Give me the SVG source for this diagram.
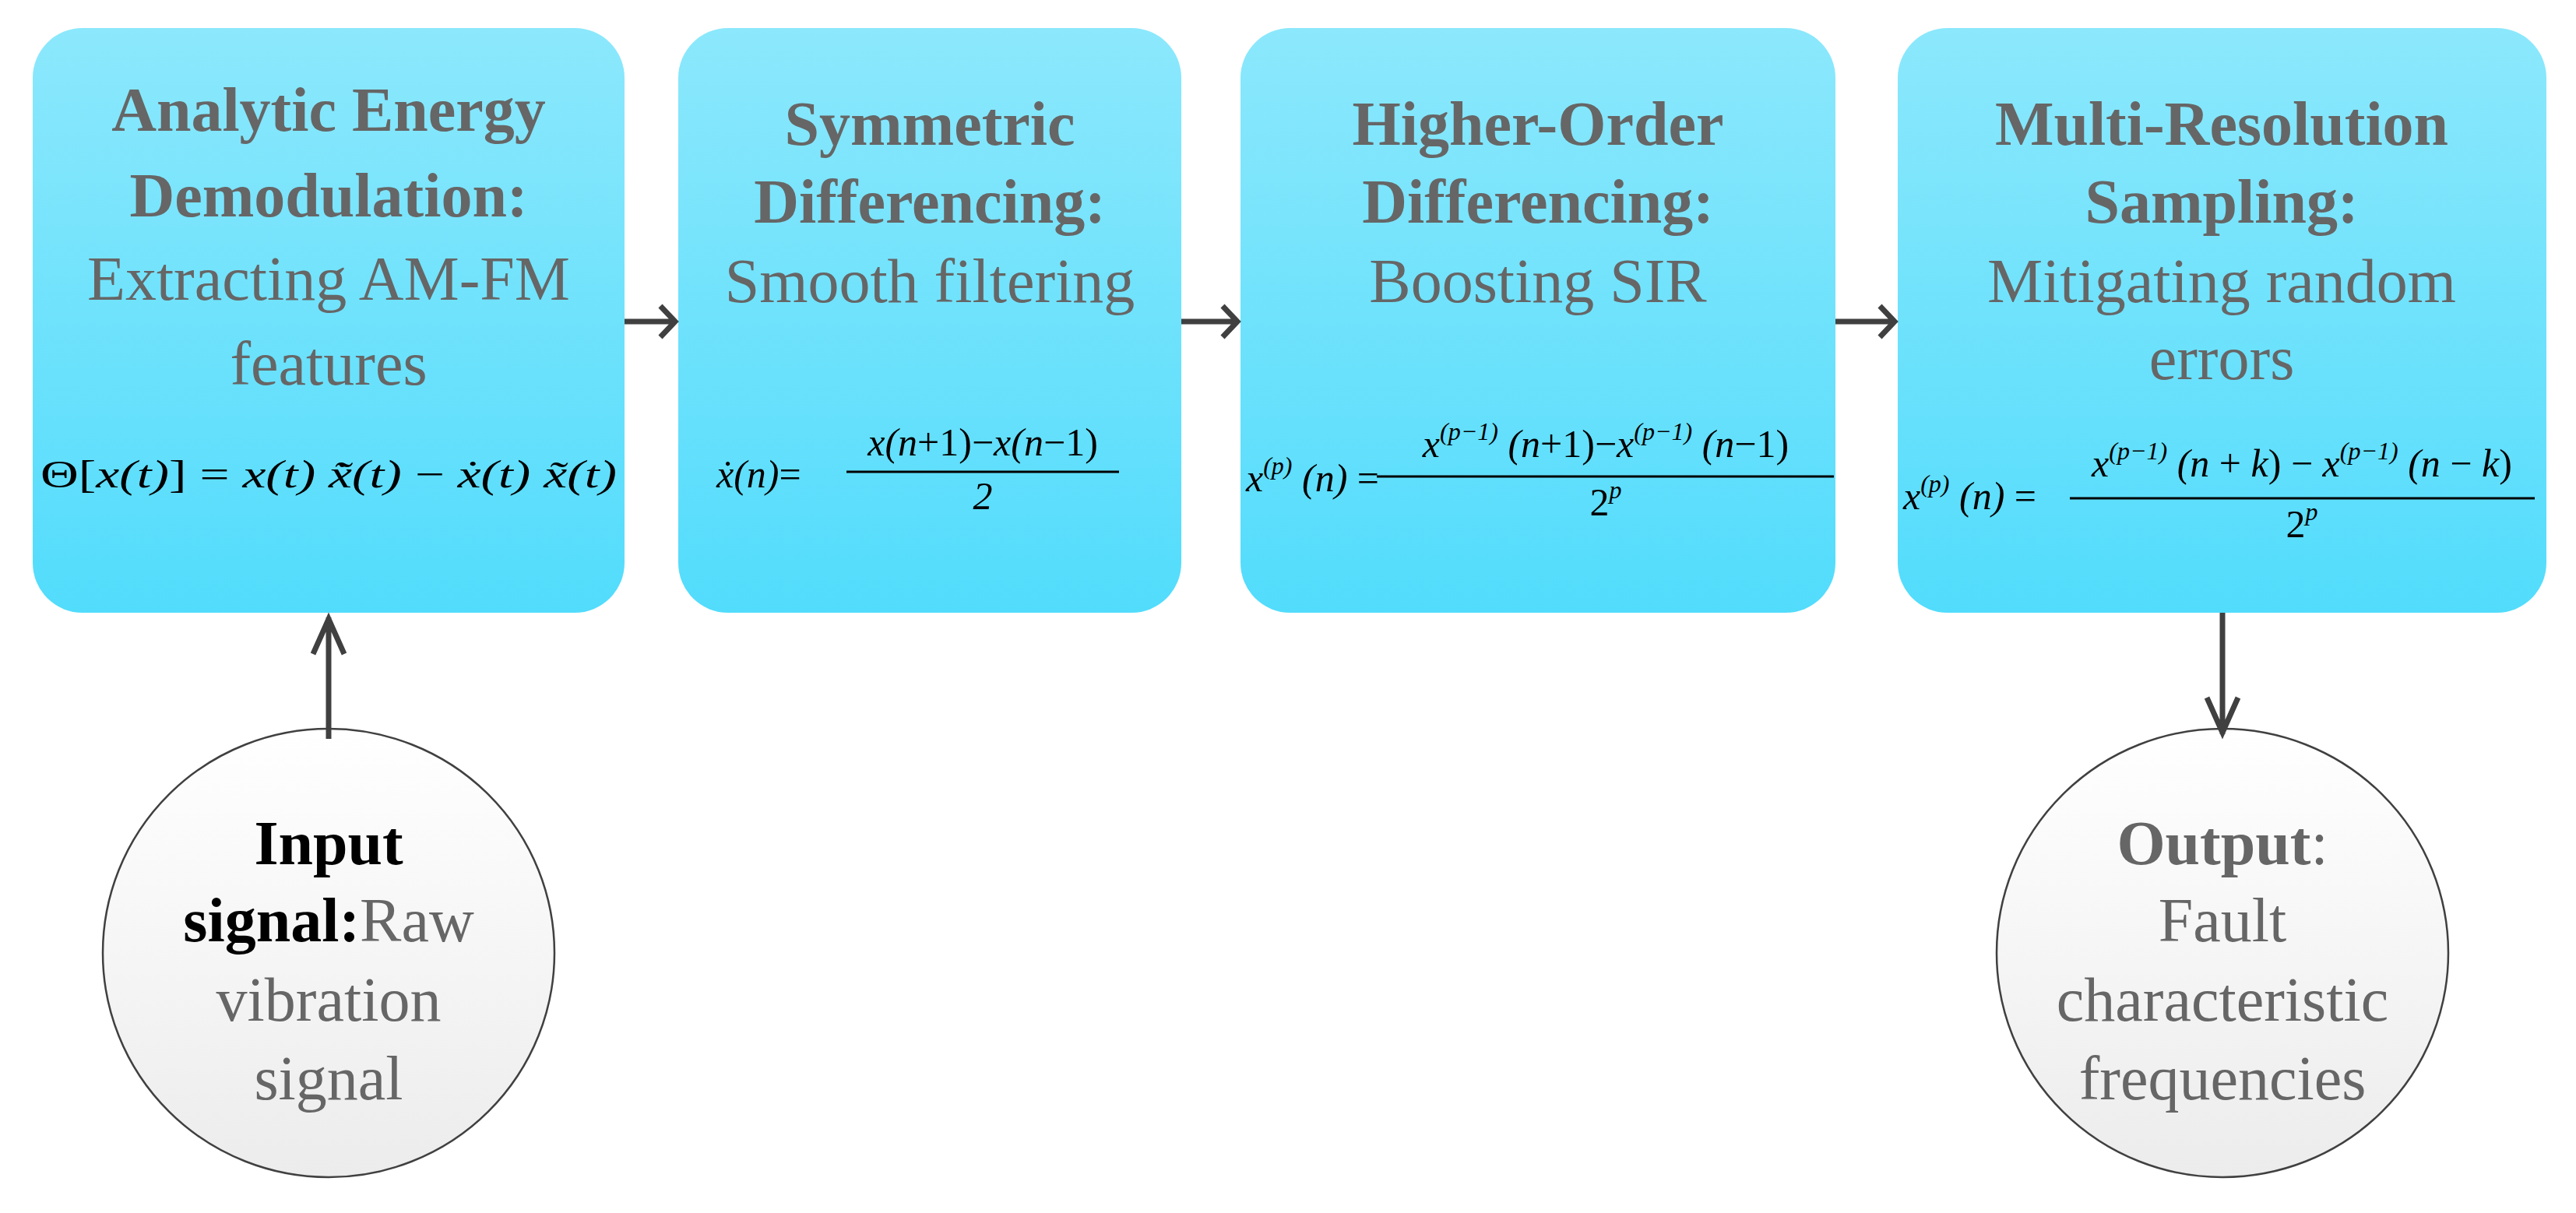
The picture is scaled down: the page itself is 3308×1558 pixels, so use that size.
<svg xmlns="http://www.w3.org/2000/svg" width="3308" height="1558" viewBox="0 0 3308 1558">
<defs>
<linearGradient id="gb" x1="0" y1="0" x2="0" y2="1"><stop offset="0" stop-color="#8ce8fc"/><stop offset="1" stop-color="#52dcfc"/></linearGradient>
<linearGradient id="gc" x1="0" y1="0" x2="0" y2="1"><stop offset="0" stop-color="#ffffff"/><stop offset="1" stop-color="#ececec"/></linearGradient>
<style>
.box{fill:url(#gb);}
.circ{fill:url(#gc);stroke:#404040;stroke-width:2.5;}
.t{font-family:"Liberation Serif",serif;font-size:80px;fill:#666;text-anchor:middle;}
.b{font-weight:bold;}
.f{font-family:"Liberation Serif",serif;font-size:50px;fill:#000;font-style:italic;}
.fm{font-family:"Liberation Serif",serif;font-size:50px;fill:#000;text-anchor:middle;font-style:italic;}
.sup{font-size:32px;}
.ln{stroke:#000;stroke-width:3;}
.con{stroke:#404040;stroke-width:7;fill:none;}
</style>
</defs>
<g id="node-analytic">
<rect class="box" x="42" y="36" width="760" height="751" rx="64"/>
<text class="t b" x="422" y="168">Analytic Energy</text>
<text class="t b" x="422" y="278">Demodulation:</text>
<text class="t" x="422" y="385">Extracting AM-FM</text>
<text class="t" x="422" y="494">features</text>
<text class="f" x="422" y="626" text-anchor="middle" textLength="740" lengthAdjust="spacingAndGlyphs"><tspan font-style="normal">Θ[</tspan>x(t)<tspan font-style="normal">] = </tspan>x(t) x̃̇(t) <tspan font-style="normal">−</tspan> ẋ(t) x̃(t)</text>
</g>
<g id="node-symmetric">
<rect class="box" x="871" y="36" width="646" height="751" rx="64"/>
<text class="t b" x="1194" y="186">Symmetric</text>
<text class="t b" x="1194" y="286">Differencing:</text>
<text class="t" x="1194" y="388">Smooth filtering</text>
<text class="f" x="920" y="626">ẋ(n)<tspan font-style="normal">=</tspan></text>
<text class="fm" x="1262" y="585">x(n<tspan font-style="normal">+1)−</tspan>x(n<tspan font-style="normal">−1)</tspan></text>
<line class="ln" x1="1087" y1="606" x2="1437" y2="606"/>
<text class="fm" x="1262" y="654" font-style="normal">2</text>
</g>
<g id="node-higher">
<rect class="box" x="1593" y="36" width="764" height="751" rx="64"/>
<text class="t b" x="1975" y="186">Higher-Order</text>
<text class="t b" x="1975" y="286">Differencing:</text>
<text class="t" x="1975" y="388">Boosting SIR</text>
<text class="f" x="1600" y="631">x<tspan class="sup" dy="-22">(p)</tspan><tspan dy="22"> (n) </tspan><tspan font-style="normal">=</tspan></text>
<text class="fm" x="2062" y="587">x<tspan class="sup" dy="-22">(p−1)</tspan><tspan dy="22"> (n</tspan><tspan font-style="normal">+1)−</tspan>x<tspan class="sup" dy="-22">(p−1)</tspan><tspan dy="22"> (n</tspan><tspan font-style="normal">−1)</tspan></text>
<line class="ln" x1="1768" y1="612" x2="2355" y2="612"/>
<text class="fm" x="2062" y="662"><tspan font-style="normal">2</tspan><tspan class="sup" dy="-22">p</tspan></text>
</g>
<g id="node-multi">
<rect class="box" x="2437" y="36" width="833" height="751" rx="64"/>
<text class="t b" x="2853" y="186">Multi-Resolution</text>
<text class="t b" x="2853" y="286">Sampling:</text>
<text class="t" x="2853" y="388">Mitigating random</text>
<text class="t" x="2853" y="487">errors</text>
<text class="f" x="2444" y="654">x<tspan class="sup" dy="-22">(p)</tspan><tspan dy="22"> (n) </tspan><tspan font-style="normal">=</tspan></text>
<text class="fm" x="2956" y="612">x<tspan class="sup" dy="-22">(p−1)</tspan><tspan dy="22"> (n </tspan><tspan font-style="normal">+ </tspan>k<tspan font-style="normal">) − </tspan>x<tspan class="sup" dy="-22">(p−1)</tspan><tspan dy="22"> (n </tspan><tspan font-style="normal">− </tspan>k<tspan font-style="normal">)</tspan></text>
<line class="ln" x1="2658" y1="640" x2="3255" y2="640"/>
<text class="fm" x="2956" y="690"><tspan font-style="normal">2</tspan><tspan class="sup" dy="-22">p</tspan></text>
</g>
<g id="node-input">
<ellipse class="circ" cx="422" cy="1224" rx="290" ry="288"/>
<text class="t" x="422" y="1110" fill="#000" style="fill:#000;font-weight:bold">Input</text>
<text class="t" x="422" y="1209"><tspan style="fill:#000;font-weight:bold">signal:</tspan>Raw</text>
<text class="t" x="422" y="1311">vibration</text>
<text class="t" x="422" y="1412">signal</text>
</g>
<g id="node-output">
<ellipse class="circ" cx="2854" cy="1224" rx="290" ry="288"/>
<text class="t" x="2854" y="1110"><tspan class="b">Output</tspan>:</text>
<text class="t" x="2854" y="1209">Fault</text>
<text class="t" x="2854" y="1311">characteristic</text>
<text class="t" x="2854" y="1412">frequencies</text>
</g>
<g id="connectors">
<path class="con" d="M802 413H865M848 393L867 413L848 433"/>
<path class="con" d="M1517 413H1587M1570 393L1589 413L1570 433"/>
<path class="con" d="M2357 413H2431M2414 393L2433 413L2414 433"/>
<path class="con" d="M422 949V793M402 840L422 795L442 840"/>
<path class="con" d="M2854 787V943M2834 896L2854 941L2874 896"/>
</g>
</svg>
